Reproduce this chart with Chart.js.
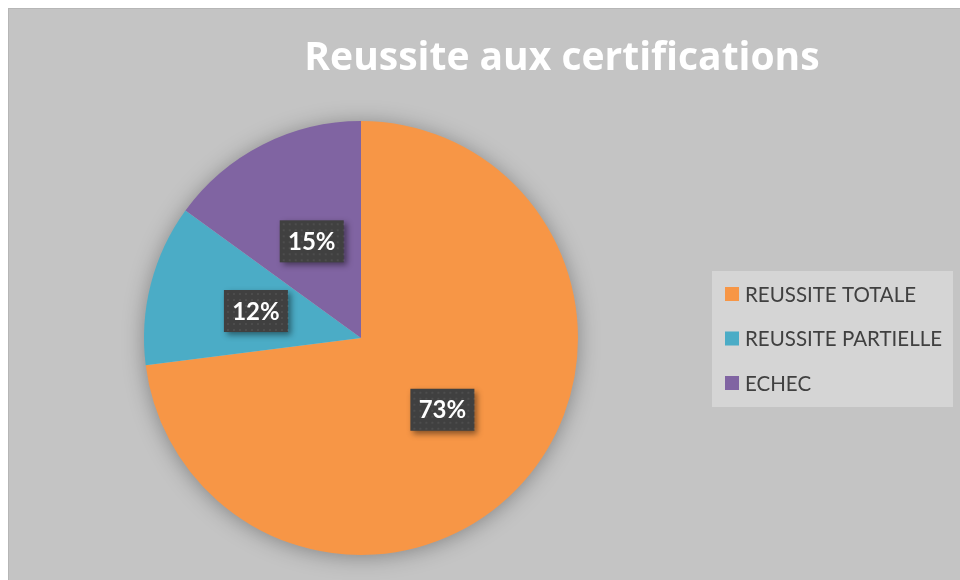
<!DOCTYPE html>
<html>
<head>
<meta charset="utf-8">
<script src="https://cdn.jsdelivr.net/npm/chart.js@4.4.0/dist/chart.umd.min.js"></script>
<style>
    html, body { margin: 0; padding: 0; background: #ffffff; }
    #wrap {
        position: absolute; left: 8px; top: 8px;
        width: 951px; height: 571px;
        background: #c4c4c4;
        border-top: 1px solid #b6b6b6;
        border-left: 1px solid #b6b6b6;
    }
    canvas { display: block; }
</style>
</head>
<body>
<div id="wrap"><canvas id="pieChart" width="951" height="571"></canvas></div>
<script>
// Data
const chartTitle = 'Reussite aux certifications';
const categories = ['REUSSITE TOTALE', 'REUSSITE PARTIELLE', 'ECHEC'];
const percentages = [73, 12, 15];
const sliceColors = ['#F79646', '#4BACC6', '#8064A2'];

// soft shadow under the whole pie
const pieShadow = {
    id: 'pieShadow',
    beforeDatasetsDraw(chart) {
        const arc = chart.getDatasetMeta(0).data[0];
        if (!arc) return;
        const ctx = chart.ctx;
        ctx.save();
        ctx.shadowColor = 'rgba(0, 0, 0, 0.35)';
        ctx.shadowBlur = 22;
        ctx.shadowOffsetY = 2;
        ctx.fillStyle = '#c4c4c4';
        ctx.beginPath();
        ctx.arc(arc.x, arc.y, arc.outerRadius - 1, 0, Math.PI * 2);
        ctx.fill();
        ctx.restore();
    }
};

// dark label boxes with the percentage
const sliceLabels = {
    id: 'sliceLabels',
    afterDatasetsDraw(chart) {
        const ctx = chart.ctx;
        const meta = chart.getDatasetMeta(0);
        meta.data.forEach((arc, i) => {
            const pos = arc.tooltipPosition();
            const w = 64, h = 42;
            ctx.save();
            ctx.shadowColor = 'rgba(0, 0, 0, 0.45)';
            ctx.shadowBlur = 6;
            ctx.shadowOffsetX = 3;
            ctx.shadowOffsetY = 3;
            ctx.fillStyle = '#404040';
            ctx.fillRect(pos.x - w / 2, pos.y - h / 2, w, h);
            ctx.restore();
            // faint dotted texture on the box
            ctx.save();
            ctx.fillStyle = 'rgba(255, 255, 255, 0.07)';
            for (let dx = 3; dx < w; dx += 6) {
                for (let dy = 3; dy < h; dy += 6) {
                    ctx.fillRect(pos.x - w / 2 + dx, pos.y - h / 2 + dy, 2, 2);
                }
            }
            ctx.fillStyle = '#ffffff';
            ctx.font = 'bold 24px Lato';
            ctx.textAlign = 'center';
            ctx.textBaseline = 'middle';
            ctx.fillText(percentages[i] + '%', pos.x, pos.y + 1);
            ctx.restore();
        });
    }
};

// title and legend box on the right
const titleAndLegend = {
    id: 'titleAndLegend',
    afterDraw(chart) {
        const ctx = chart.ctx;
        ctx.save();
        ctx.fillStyle = '#ffffff';
        ctx.font = 'bold 39px "Open Sans"';
        ctx.textAlign = 'center';
        ctx.textBaseline = 'alphabetic';
        ctx.fillText(chartTitle, 553, 61);

        ctx.fillStyle = '#d5d5d5';
        ctx.fillRect(703, 262, 241, 136);
        ctx.font = '20.5px Lato';
        ctx.textAlign = 'left';
        ctx.textBaseline = 'middle';
        categories.forEach((name, i) => {
            const y = 285 + i * 44.5;
            ctx.fillStyle = sliceColors[i];
            ctx.fillRect(716, y - 7, 14, 14);
            ctx.fillStyle = '#404040';
            ctx.fillText(name, 736, y + 1);
        });
        ctx.restore();
    }
};

const ctx = document.getElementById('pieChart').getContext('2d');
new Chart(ctx, {
    type: 'pie',
    data: {
        labels: categories,
        datasets: [{
            data: percentages,
            backgroundColor: sliceColors,
            borderWidth: 0,
            hoverOffset: 0
        }]
    },
    options: {
        responsive: false,
        animation: false,
        layout: {
            padding: { left: 135, right: 382, top: 112, bottom: 25 }
        },
        plugins: {
            legend: { display: false },
            title: { display: false },
            tooltip: { enabled: false }
        }
    },
    plugins: [pieShadow, sliceLabels, titleAndLegend]
});
</script>
</body>
</html>
